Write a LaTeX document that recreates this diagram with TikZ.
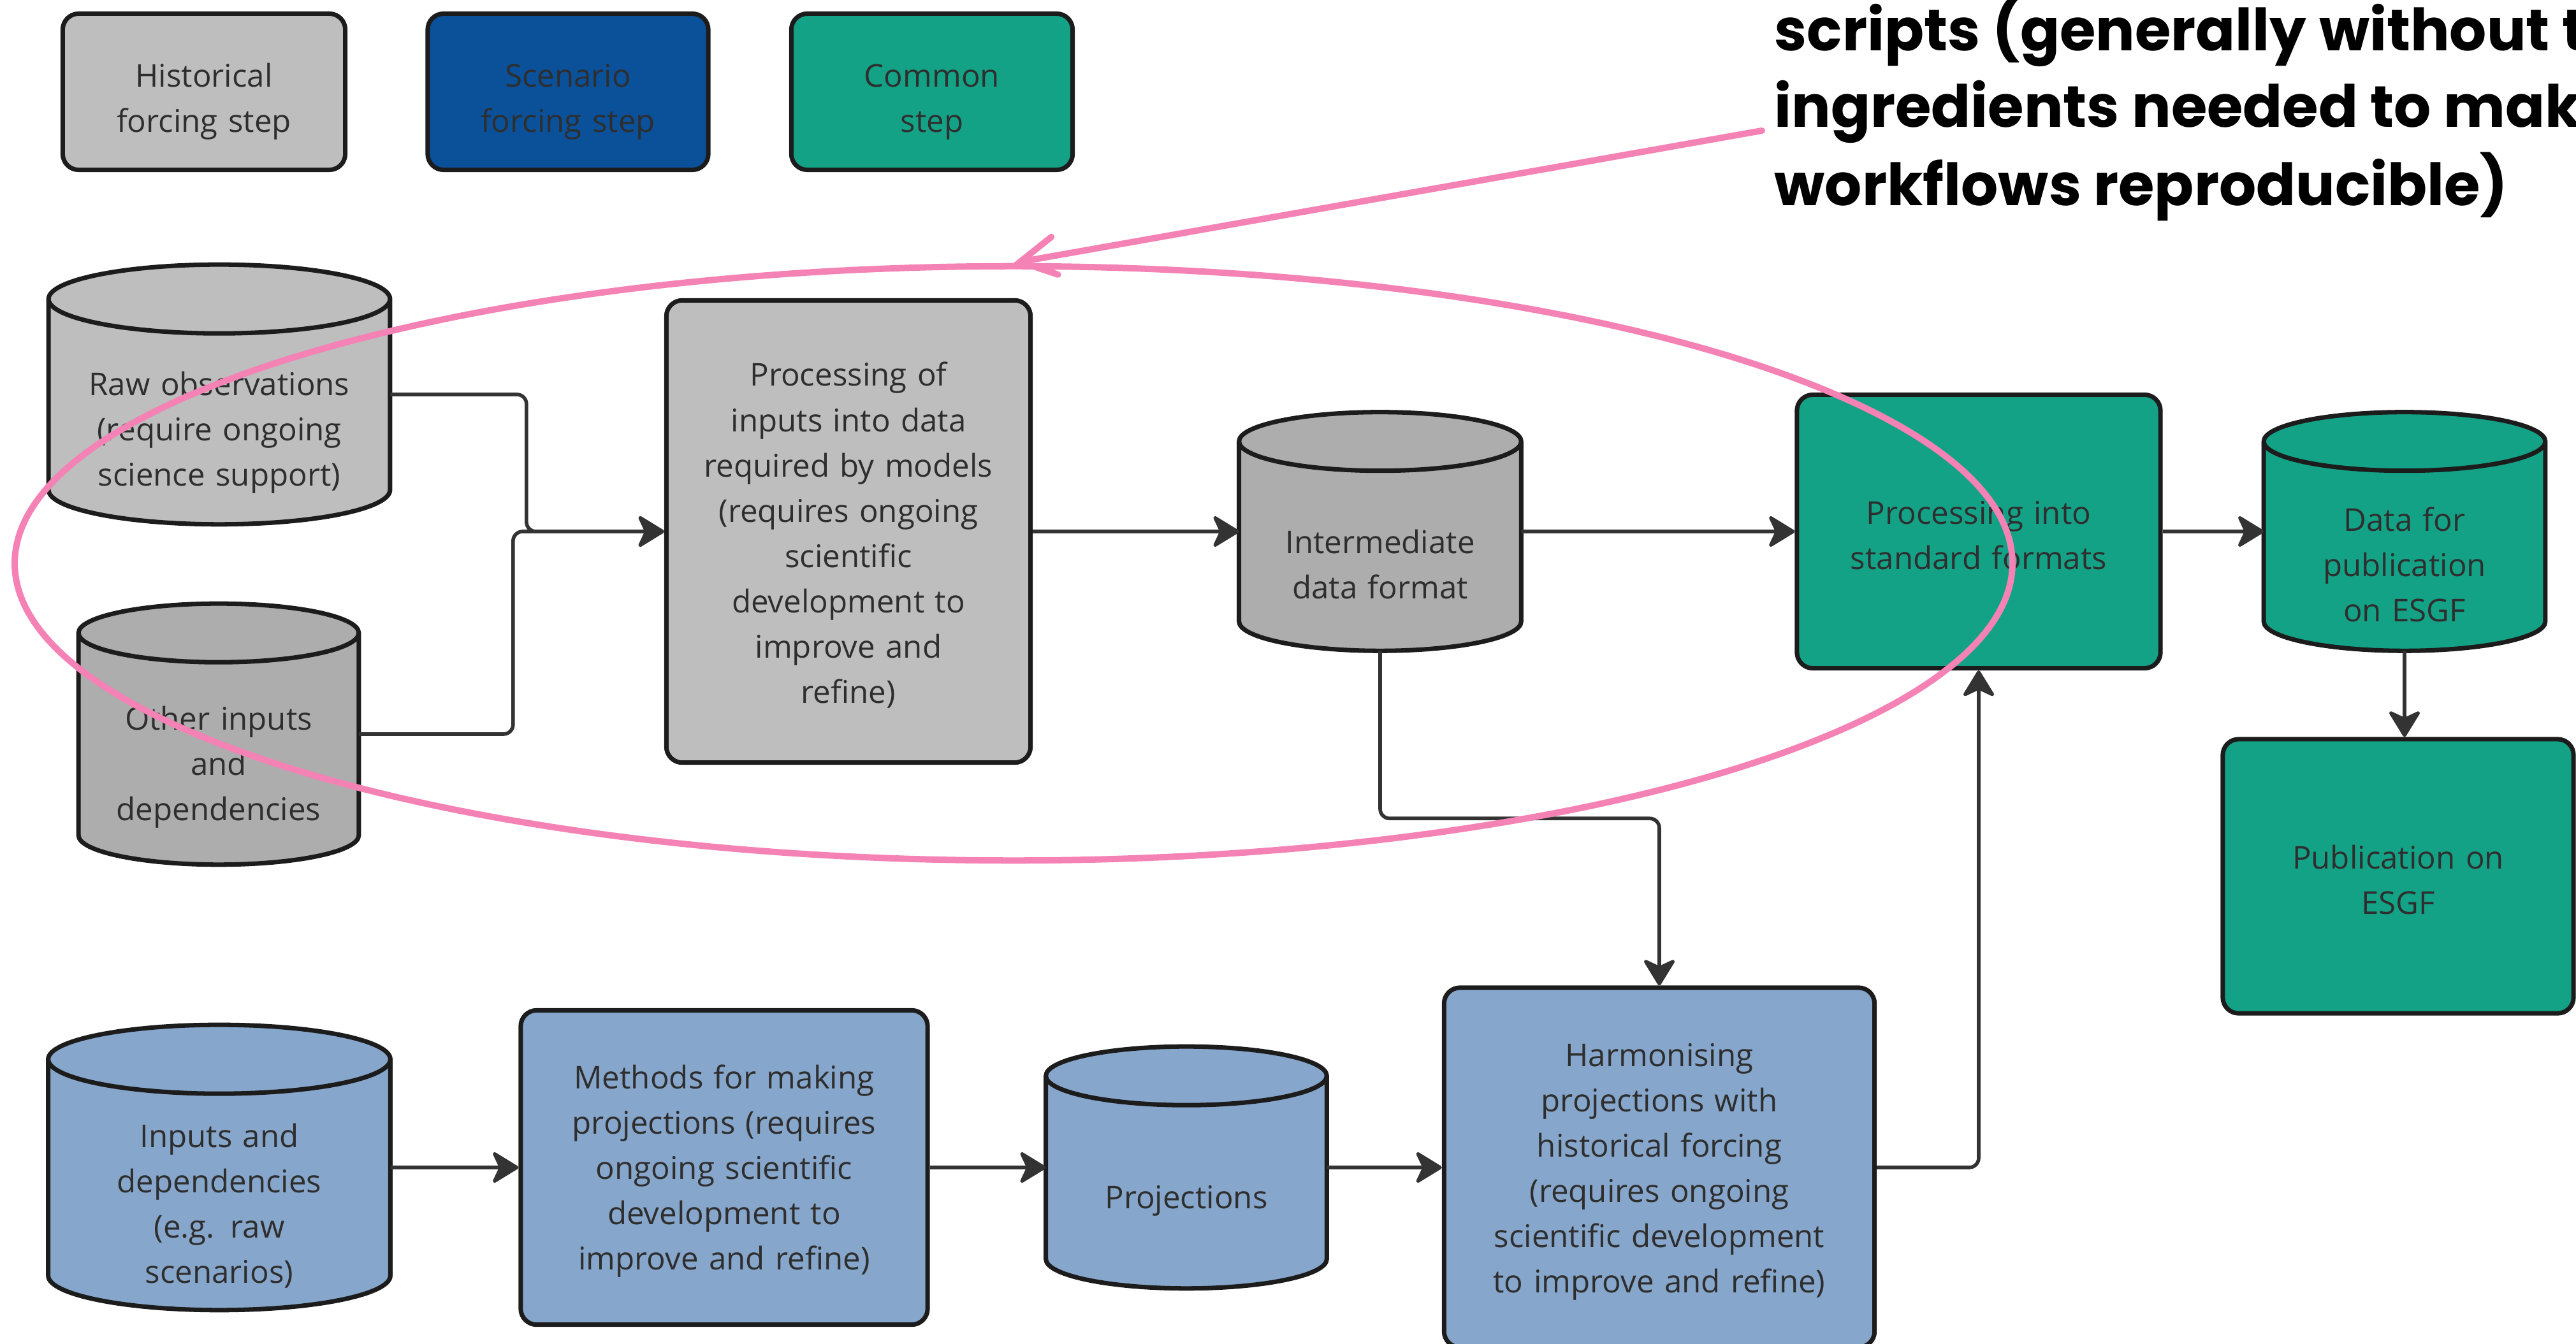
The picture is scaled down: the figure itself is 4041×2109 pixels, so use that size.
\documentclass[tikz,border=0pt]{standalone}
\usepackage{fontspec}
\setmainfont{Open Sans}
\newfontfamily\notefont{Poppins}
\usetikzlibrary{shapes.geometric,arrows.meta,backgrounds,calc}

\definecolor{histgrey}{HTML}{BEBEBE}
\definecolor{midgrey}{HTML}{ADADAD}
\definecolor{scenblue}{HTML}{0A519A}
\definecolor{paleblue}{HTML}{86A6CB}
\definecolor{commongreen}{HTML}{14A286}
\definecolor{edge}{HTML}{1C1C1C}
\definecolor{wire}{HTML}{333333}
\definecolor{ink}{HTML}{2E2E2E}
\definecolor{marker}{HTML}{F482B4}

\begin{document}
\begin{tikzpicture}[x=0.01cm, y=-0.01cm,
		boxsize/.style 2 args={minimum width=#1, text width=#1, minimum height=#2},
		stepbox/.style={shape=rectangle, draw=edge, line width=2pt, rounded corners=0.25cm, text=ink, align=center, inner sep=0pt, font=\fontsize{14pt}{20.2pt}\selectfont, execute at begin node={\rule{0pt}{0.49cm}}},
		legendbox/.style={stepbox, execute at begin node={\rule{0pt}{0.67cm}}},
		drum/.style={shape=rectangle, text=ink, align=center, inner sep=0pt, font=\fontsize{14pt}{20.2pt}\selectfont, execute at begin node={\rule{0pt}{0.49cm}}},
		drumline/.style={draw=edge, line width=2pt, line join=round},
		flow/.style={draw=wire, line width=1.6pt, rounded corners=0.15cm, -{Stealth[length=4.6mm, width=5.6mm, inset=1.3mm, round]}},
		notetext/.style={anchor=base west, inner sep=0pt, text=black, font=\notefont\bfseries\fontsize{26pt}{30pt}\selectfont}]
			\useasboundingbox (0,0) rectangle (4041,2109);
			\clip (0,0) rectangle (4041,2109);
			% legend
			\node[legendbox, fill=histgrey, boxsize={4.43cm}{2.45cm}] (leghist) at (320,144) {Historical\\forcing step};
			\node[legendbox, fill=scenblue, boxsize={4.40cm}{2.45cm}] (legscen) at (891,144) {Scenario\\forcing step};
			\node[legendbox, fill=commongreen, boxsize={4.41cm}{2.45cm}] (legcom) at (1462,144) {Common\\step};
			% historical row (drum nodes hold the body below the lid)
			\node[drum, boxsize={5.34cm}{2.98cm}] (raw) at (344,673) {Raw observations\\(require ongoing\\science support)};
			\node[drum, boxsize={4.38cm}{3.16cm}] (other) at (343,1198) {Other inputs\\and\\dependencies};
			\node[stepbox, fill=histgrey, boxsize={5.71cm}{7.25cm}] (procin) at (1331,834) {Processing of\\inputs into data\\required by models\\(requires ongoing\\scientific\\development to\\improve and\\refine)};
			\node[drum, boxsize={4.41cm}{2.81cm}] (inter) at (2165,880) {Intermediate\\data format};
			\node[stepbox, fill=commongreen, boxsize={5.70cm}{4.29cm}] (stdfmt) at (3104,834) {Processing into\\standard formats};
			\node[drum, boxsize={4.40cm}{2.81cm}] (pubdata) at (3772,880) {Data for\\publication\\on ESGF};
			\node[stepbox, fill=commongreen, boxsize={5.50cm}{4.30cm}] (publish) at (3762,1375) {Publication on\\ESGF};
			% scenario row
			\node[drum, boxsize={5.35cm}{3.38cm}] (inputs) at (344,1886) {Inputs and\\dependencies\\(e.g. raw\\scenarios)};
			\node[stepbox, fill=paleblue, boxsize={6.38cm}{4.93cm}] (methods) at (1136,1832) {Methods for making\\projections (requires\\ongoing scientific\\development to\\improve and refine)};
			\node[drum, boxsize={4.39cm}{2.86cm}] (proj) at (1861,1878) {Projections};
			\node[stepbox, fill=paleblue, boxsize={6.75cm}{5.64cm}] (harm) at (2603,1832) {Harmonising\\projections with\\historical forcing\\(requires ongoing\\scientific development\\to improve and refine)};
			% cylinders round the drum nodes
			\begin{scope}[on background layer]
				\foreach \drumname/\drumfill/\rad in {raw/histgrey/0.54cm, other/midgrey/0.46cm, inter/midgrey/0.46cm, pubdata/commongreen/0.46cm, inputs/paleblue/0.54cm, proj/paleblue/0.46cm}
				{
					\draw[drumline, fill=\drumfill] let \p1=(\drumname.north west), \p2=(\drumname.south east) in
						(\x1,\y1+\rad) -- (\x1,\y2+\rad) arc[start angle=180, end angle=360, x radius={(\x2-\x1)/2}, y radius=\rad]
						-- (\x2,\y1+\rad) arc[start angle=0, end angle=180, x radius={(\x2-\x1)/2}, y radius=\rad] -- cycle
						(\x1,\y1+\rad) arc[start angle=180, end angle=360, x radius={(\x2-\x1)/2}, y radius=\rad];
				}
			\end{scope}
			% connectors
			\draw[flow] ([yshift=5.4mm]raw.east) -- ++(214,0) |- (procin.west);
			\draw[flow] ([yshift=4.6mm]other.east) -- ++(242,0) |- (procin.west);
			\draw[flow] (procin.east) -- (procin.east -| inter.west);
			\draw[flow] ([yshift=4.6mm]inter.east) -- (stdfmt.west);
			\draw[flow] (stdfmt.east) -- (stdfmt.east -| pubdata.west);
			\draw[flow] (pubdata.south) -- (pubdata.south |- publish.north);
			\draw[flow] (inter.south) -- ++(0,263) -| (harm.north);
			\draw[flow] ([yshift=5.4mm]inputs.east) -- (methods.west);
			\draw[flow] (methods.east) -- (methods.east -| proj.west);
			\draw[flow] ([yshift=4.6mm]proj.east) -- (harm.west);
			\draw[flow] (harm.east) -| (stdfmt.south);
			% pink note
			\node[ellipse, draw=marker, line width=0.1cm, minimum width=31.32cm, minimum height=9.32cm, inner sep=0pt] (ring) at (1590,884) {};
			\node[notetext] (note1) at (2783,80) {scripts (generally without the};
			\node[notetext] (note2) at (2783,200) {ingredients needed to make};
			\node[notetext] (note3) at (2783,322) {workflows reproducible)};
			\coordinate (notetail) at (2764,205);
			\draw[marker, line width=0.1cm, line cap=round, -{Straight Barb[length=5.5mm, width=6mm, line cap=round]}] (notetail) -- (ring.north);
		\end{tikzpicture}
\end{document}
